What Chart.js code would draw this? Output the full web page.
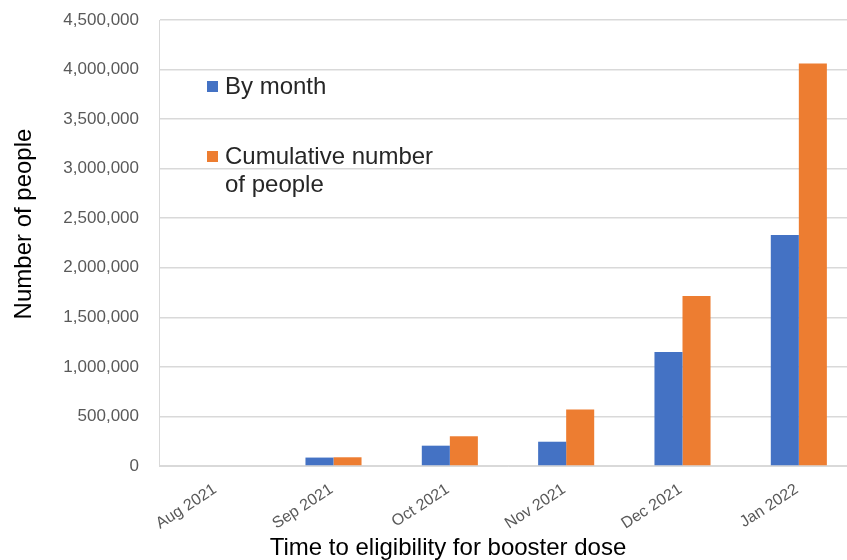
<!DOCTYPE html>
<html>
<head>
<meta charset="utf-8">
<script src="https://cdn.jsdelivr.net/npm/chart.js@4"></script>
<style>
  html, body { margin: 0; padding: 0; background: #fff; overflow: hidden; }
  #wrap { width: 847px; height: 560px; overflow: hidden; }
</style>
</head>
<body>
<div id="wrap"><canvas id="booster-chart" width="857" height="560"></canvas></div>
<script>
// chart data
const months = ['Aug 2021', 'Sep 2021', 'Oct 2021', 'Nov 2021', 'Dec 2021', 'Jan 2022']
const byMonth = [0, 85000, 205000, 245000, 1150000, 2330000]
const cumulative = [0, 88000, 300000, 570000, 1715000, 4060000]
const seriesNames = ['By month', 'Cumulative number of people']
const legendLines = [['By month'], ['Cumulative number', 'of people']]
const yTitle = 'Number of people'
const xTitle = 'Time to eligibility for booster dose'

const BLUE = '#4472C4'
const ORANGE = '#ED7D31'
const FONT = "'Liberation Sans', Arial, sans-serif"

// titles + legend drawn inside the plot, Excel style
const overlayPlugin = {
  id: 'overlay',
  afterDraw(chart) {
    const ctx = chart.ctx
    ctx.save()

    // legend
    const rows = [{ y: 87 }, { y: 157 }]
    chart.data.datasets.forEach((ds, i) => {
      const r = rows[i]
      ctx.fillStyle = ds.backgroundColor
      ctx.fillRect(207, r.y - 6, 11, 11)
      ctx.fillStyle = '#262626'
      ctx.font = `24px ${FONT}`
      ctx.textBaseline = 'middle'
      ctx.textAlign = 'left'
      legendLines[i].forEach((line, j) => {
        ctx.fillText(line, 225, r.y + j * 28)
      })
    })

    // x title
    ctx.fillStyle = '#000'
    ctx.font = `24px ${FONT}`
    ctx.textAlign = 'center'
    ctx.textBaseline = 'alphabetic'
    ctx.fillText(xTitle, 448, 555)

    // y title
    ctx.translate(31, 224)
    ctx.rotate(-Math.PI / 2)
    ctx.fillText(yTitle, 0, 0)

    ctx.restore()
  }
}

const config = {
  type: 'bar',
  data: {
    labels: months,
    datasets: [
      { label: seriesNames[0], data: byMonth, backgroundColor: BLUE },
      { label: seriesNames[1], data: cumulative, backgroundColor: ORANGE }
    ]
  },
  options: {
    responsive: false,
    animation: false,
    devicePixelRatio: 1,
    layout: { padding: { top: 20, right: 0, bottom: 0, left: 0 } },
    categoryPercentage: 0.482,
    barPercentage: 1.0,
    scales: {
      x: {
        grid: { display: false, drawTicks: false },
        border: { display: true, color: '#d9d9d9' },
        ticks: {
          autoSkip: false,
          minRotation: 33,
          maxRotation: 33,
          padding: 14,
          labelOffset: -2,
          color: '#595959',
          font: { family: FONT, size: 16 }
        },
        afterFit: s => {
          s.height = 94
          s.paddingLeft = 0
          s.paddingRight = 0
        }
      },
      y: {
        min: 0,
        max: 4500000,
        grid: { color: '#d9d9d9', lineWidth: 1.5, drawTicks: false },
        border: { display: true, color: '#d9d9d9' },
        ticks: {
          stepSize: 500000,
          padding: 20,
          color: '#595959',
          font: { family: FONT, size: 17 },
          callback: v => v.toLocaleString('en-US')
        },
        afterFit: s => {
          s.width = 159
          s.paddingTop = 0
          s.paddingBottom = 0
        }
      }
    },
    plugins: {
      legend: { display: false },
      tooltip: { enabled: false }
    }
  },
  plugins: [overlayPlugin]
}

new Chart(document.getElementById('booster-chart'), config)
</script>
</body>
</html>
